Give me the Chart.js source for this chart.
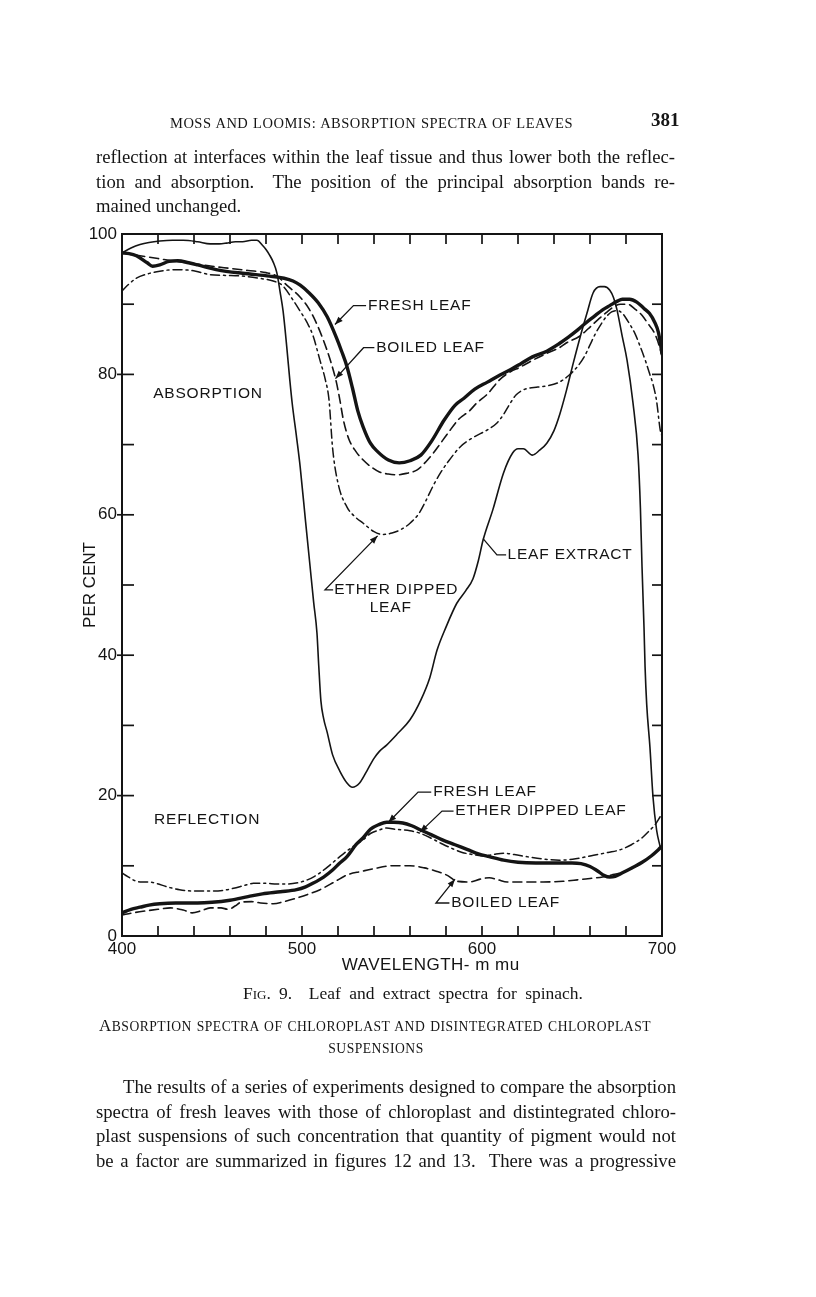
<!DOCTYPE html>
<html><head><meta charset="utf-8">
<script src="https://cdn.jsdelivr.net/npm/chart.js@4.4.1/dist/chart.umd.min.js"></script>
<style>
html,body{margin:0;padding:0;background:#fff;}
body{width:816px;height:1297px;position:relative;overflow:hidden;}
#c{position:absolute;left:0;top:0;}
.t{position:absolute;font-family:"Liberation Serif",serif;color:#151515;white-space:nowrap;line-height:20px;}
.j{text-align:justify;text-align-last:justify;}
</style></head><body>
<canvas id="c" width="816" height="1297"></canvas>

<div class="t j" style="left:170px;top:113px;width:403px;font-size:14.5px;letter-spacing:0.5px;">MOSS AND LOOMIS: ABSORPTION SPECTRA OF LEAVES</div>
<div class="t" style="left:651px;top:110px;font-size:19px;font-weight:bold;">381</div>

<div class="t j" style="left:96px;top:147px;width:579px;font-size:18.7px;">reflection at interfaces within the leaf tissue and thus lower both the reflec-</div>
<div class="t j" style="left:96px;top:172px;width:579px;font-size:18.7px;">tion and absorption.&nbsp; The position of the principal absorption bands re-</div>
<div class="t" style="left:96px;top:196px;font-size:18.7px;">mained unchanged.</div>

<div class="t j" style="left:243px;top:983px;width:340px;font-size:17.5px;">F<span style="font-size:13px">IG</span>. 9.&nbsp; Leaf and extract spectra for spinach.</div>

<div class="t j" style="left:99px;top:1016px;width:552px;font-size:13.6px;letter-spacing:0.5px;"><span style="font-size:17px">A</span>BSORPTION SPECTRA OF CHLOROPLAST AND DISINTEGRATED CHLOROPLAST</div>
<div class="t" style="left:276px;top:1039px;width:200px;text-align:center;font-size:13.6px;letter-spacing:0.5px;">SUSPENSIONS</div>

<div class="t j" style="left:123px;top:1077px;width:553px;font-size:18.7px;">The results of a series of experiments designed to compare the absorption</div>
<div class="t j" style="left:96px;top:1102px;width:580px;font-size:18.7px;">spectra of fresh leaves with those of chloroplast and distintegrated chloro-</div>
<div class="t j" style="left:96px;top:1126px;width:580px;font-size:18.7px;">plast suspensions of such concentration that quantity of pigment would not</div>
<div class="t j" style="left:96px;top:1151px;width:580px;font-size:18.7px;">be a factor are summarized in figures 12 and 13.&nbsp; There was a progressive</div>

<script>
// ---- Data (wavelength in m\u00b5, value in per cent) ----
const xTickLabels = [400, 500, 600, 700];
const yTickLabels = [0, 20, 40, 60, 80, 100];

// Absorption, fresh leaf (heavy solid)
const wlFreshAbs = [400,404,408,414,417,421,426,431,437,442,453,467,482,490,495,499,504,509,514,519,522,525,528,531,534,538,542,548,554,560,566,572,579,585,590,596,603,610,616,622,628,636,643,648,653,658,662,667,671,675,678,682,686,690,693,696,698,700];
const pctFreshAbs = [97.3,97.2,96.9,95.9,95.4,95.6,96.1,96.2,95.9,95.6,94.9,94.4,94.0,93.7,93.3,92.7,91.6,90.2,88.2,85.3,83.3,81.1,78.1,74.8,72.5,70.2,69.0,67.8,67.4,67.7,68.5,70.5,73.5,75.6,76.6,77.9,78.9,79.9,80.7,81.6,82.5,83.3,84.4,85.3,86.3,87.4,88.2,89.2,89.8,90.4,90.7,90.7,90.3,89.4,88.7,87.4,86.0,83.0];

// Absorption, boiled leaf (dashed)
const wlBoiledAbs = [400,410,420,430,440,450,460,470,480,486,492,499,504,508,512,516,519,521,523,526,530,534,538,543,548,553,558,564,569,573,577,581,587,593,597,603,610,616,621,628,636,643,647,654,659,664,669,673,677,681,685,689,692,696,699,700];
const pctBoiledAbs = [97.3,96.9,96.5,96.1,95.8,95.4,95.1,94.8,94.5,94.0,92.6,91.0,89.3,87.3,84.8,81.8,79.0,76.4,73.5,70.8,69.0,67.8,66.9,66.1,65.8,65.7,65.9,66.4,67.6,68.8,70.2,71.6,73.6,74.8,75.9,77.2,79.3,80.4,81.0,82.0,83.0,83.8,84.5,85.4,86.5,87.7,88.8,89.6,90.0,90.0,89.3,88.4,87.3,85.8,83.6,82.5];

// Absorption, ether dipped leaf (dash-dot)
const wlEtherAbs = [400,404,408,414,421,428,434,441,449,458,467,476,484,489,495,499,503,506,510,513,515,517,520,525,530,534,540,545,550,555,560,565,569,573,577,581,588,595,603,608,612,615,619,624,631,637,643,648,653,657,660,663,666,669,672,675,678,681,685,688,691,693,695,697,699,700];
const pctEtherAbs = [91.9,92.9,93.7,94.3,94.7,94.9,94.9,94.7,94.2,94.1,94.0,93.7,93.3,92.7,90.6,89.0,87.3,85.6,82.0,79.2,76.4,69.5,64.5,61.1,59.6,58.8,57.6,57.2,57.4,57.9,58.8,60.2,62.1,64.2,66.0,67.5,69.7,71.0,72.1,73.0,74.3,75.6,77.1,77.9,78.2,78.4,78.9,79.8,81.1,82.6,84.2,85.8,87.1,88.2,88.9,89.1,88.7,87.6,85.8,83.9,81.8,80.2,78.6,76.2,72.1,71.2];

// Absorption, leaf extract (thin solid)
const wlExtract = [400,405,410,415,421,428,434,442,449,454,458,463,467,472,475,478,480,482,484,486,487.8,489.5,491.5,493.3,494.5,497,499,502,504.5,506.5,508.3,509.3,510.5,512,514,517,521,525,528,532,536,540,543,547,553,560,566,571,575,580,586,591,595,598,600.6,606,612,617,620,623,628,632,636,640,643.3,647,650.7,654.5,658.3,661.7,665.6,668,671,673,675,678,680.6,683.9,686.7,688,688.9,690,690.6,691.5,693.3,695,697,699];
const pctExtract = [97.3,98.0,98.5,98.8,99.0,99.1,99.1,98.9,98.6,98.6,98.7,98.9,98.9,99.1,99.1,98.4,97.8,97.0,96.0,94.5,91.8,89.0,84.0,79.0,76.0,71.0,66.8,59.0,52.6,47.5,43.2,38.5,33.5,31.0,29.0,25.8,23.5,21.8,21.2,21.8,23.5,25.3,26.3,27.2,28.8,30.8,33.6,36.8,40.7,44.0,47.4,49.2,50.9,53.5,56.4,60.7,66.0,68.8,69.4,69.4,68.5,69.2,70.2,72.0,74.4,77.8,81.6,85.3,88.7,91.6,92.5,92.5,92.0,91.0,89.2,85.3,82.0,75.9,68.5,61.0,52.6,44.0,38.3,33.0,26.9,19.8,15.1,12.7];

// Reflection, fresh leaf (heavy solid)
const wlFreshRefl = [400,405,410,415,421,430,442,450,460,470,478,488,497,502,506,512,517,521,525,530,534,538,543,547,551,556,561,566,572,578,585,592,598,604,612,620,630,640,650,655,660,664,668,671,674,678,684,689,694,698,700];
const pctFreshRefl = [3.3,3.8,4.1,4.4,4.6,4.7,4.7,4.8,5.1,5.6,6.0,6.3,6.6,7.0,7.5,8.4,9.4,10.4,11.3,13.0,14.0,15.2,15.9,16.2,16.2,16.1,15.7,15.1,14.4,13.7,13.0,12.3,11.7,11.3,10.8,10.5,10.4,10.4,10.4,10.3,9.9,9.3,8.6,8.4,8.5,9.0,9.8,10.5,11.4,12.3,12.8];

// Reflection, boiled leaf (dashed)
const wlBoiledRefl = [400,406,414,420,427,434,439,444,449,455,459,463,466,472,477,484,490,497,504,510,518,525,533,540,550,560,568,575,581,586,593,599,604,609,614,625,634,645,653,660,667,672,677,684,689,694,699];
const pctBoiledRefl = [3.0,3.3,3.6,3.8,4.0,3.7,3.3,3.6,4.0,4.0,3.8,4.3,4.8,4.9,4.7,4.6,4.9,5.4,6.0,6.6,7.7,8.7,9.2,9.6,10.0,10.0,9.7,9.2,8.6,7.8,7.7,8.1,8.3,8.0,7.7,7.7,7.7,7.8,8.0,8.2,8.4,8.7,9.0,9.7,10.5,11.4,12.5];

// Reflection, ether dipped leaf (dash-dot)
const wlEtherRefl = [400,403,407,410,415,419,425,432,440,450,456,462,468,473,480,486,492,498,503,507,510,515,521,527,534,538,543,547,552,560,566,572,578,584,589,595,601,606,612,618,625,633,643,652,662,670,677,683,689,693,696,699];
const pctEtherRefl = [9.0,8.5,7.9,7.7,7.7,7.5,7.0,6.6,6.4,6.4,6.5,6.8,7.2,7.5,7.5,7.4,7.4,7.6,8.0,8.5,9.0,10.0,11.3,12.5,13.7,14.6,15.1,15.4,15.2,15.0,14.6,13.9,13.1,12.4,11.9,11.6,11.4,11.6,11.8,11.6,11.3,11.0,10.8,11.0,11.5,11.9,12.3,13.0,14.0,15.0,15.8,17.0];

// ---- Presentation ----
const INK = '#141414';
const LABEL_FONT = '15.5px "Liberation Sans", Arial, sans-serif';

const pts = (xs, ys) => xs.map((x, i) => ({x, y: ys[i]}));

function series(label, xs, ys, width, dash) {
  return {
    label, data: pts(xs, ys),
    borderColor: INK, borderWidth: width, borderDash: dash,
    pointRadius: 0, fill: false,
    cubicInterpolationMode: 'monotone',
    borderCapStyle: 'round', borderJoinStyle: 'round'
  };
}

const DASH = [9, 5];
const DASHDOT = [9, 4, 2, 4];

// Callout annotations (text lines + leader lines), in data units
const callouts = [
  {lines: [{t: 'FRESH LEAF', x: 536.6, y: 89.8}], leader: [[535.6, 89.8], [528.6, 89.8], [518.3, 87.1]], arrow: true},
  {lines: [{t: 'BOILED LEAF', x: 541.2, y: 83.8}], leader: [[540.2, 83.8], [534.2, 83.8], [518.6, 79.4]], arrow: true},
  {lines: [{t: 'LEAF EXTRACT', x: 614.2, y: 54.3}], leader: [[613.4, 54.3], [608.3, 54.3], [600.6, 56.6]], arrow: false},
  {lines: [{t: 'ETHER DIPPED', x: 517.9, y: 49.3}, {t: 'LEAF', x: 537.6, y: 46.7}], leader: [[517.3, 49.3], [512.8, 49.3], [542.0, 57.0]], arrow: true},
  {lines: [{t: 'FRESH LEAF', x: 572.9, y: 20.5}], leader: [[571.8, 20.5], [564.5, 20.5], [548.0, 16.2]], arrow: true},
  {lines: [{t: 'ETHER DIPPED LEAF', x: 585.2, y: 17.8}], leader: [[584.2, 17.8], [577.8, 17.8], [565.6, 14.8]], arrow: true},
  {lines: [{t: 'BOILED LEAF', x: 582.9, y: 4.7}], leader: [[581.9, 4.7], [574.4, 4.7], [585.0, 8.1]], arrow: true}
];
const regionLabels = [
  {t: 'ABSORPTION', x: 417.3, y: 77.2},
  {t: 'REFLECTION', x: 417.8, y: 16.5}
];
const xTitle = {t: 'WAVELENGTH- m mu', x: 571.5};

const paperPlugin = {
  id: 'paper',
  afterDatasetsDraw(chart) {
    const {ctx, chartArea: a, scales: {x, y}} = chart;
    const line = (x1, y1, x2, y2) => { ctx.beginPath(); ctx.moveTo(x1, y1); ctx.lineTo(x2, y2); ctx.stroke(); };
    ctx.save();
    ctx.strokeStyle = INK; ctx.fillStyle = INK; ctx.setLineDash([]);
    // frame
    ctx.lineWidth = 2;
    ctx.strokeRect(a.left, a.top, a.right - a.left, a.bottom - a.top);
    // inward tick marks
    ctx.lineWidth = 1.7;
    x.ticks.forEach(t => {
      if (t.value <= x.min || t.value >= x.max) return;
      const px = x.getPixelForValue(t.value);
      line(px, a.top, px, a.top + 10);
      line(px, a.bottom, px, a.bottom - 10);
    });
    y.ticks.forEach(t => {
      if (t.value <= y.min || t.value >= y.max) return;
      const py = y.getPixelForValue(t.value);
      const labeled = yTickLabels.includes(t.value);
      line(a.left - (labeled ? 5 : 0), py, a.left + 12, py);
      line(a.right - 10, py, a.right, py);
    });
    // callouts
    ctx.font = LABEL_FONT;
    ctx.letterSpacing = '0.8px';
    ctx.textBaseline = 'middle';
    ctx.textAlign = 'left';
    ctx.lineWidth = 1.3;
    callouts.forEach(c => {
      c.lines.forEach(l => ctx.fillText(l.t, x.getPixelForValue(l.x), y.getPixelForValue(l.y)));
      const p = c.leader.map(([vx, vy]) => [x.getPixelForValue(vx), y.getPixelForValue(vy)]);
      ctx.beginPath();
      ctx.moveTo(p[0][0], p[0][1]);
      for (let i = 1; i < p.length; i++) ctx.lineTo(p[i][0], p[i][1]);
      ctx.stroke();
      if (c.arrow) {
        const [x1, y1] = p[p.length - 2], [x2, y2] = p[p.length - 1];
        const ang = Math.atan2(y2 - y1, x2 - x1), L = 8, W = 3;
        ctx.beginPath();
        ctx.moveTo(x2, y2);
        ctx.lineTo(x2 - L * Math.cos(ang) + W * Math.sin(ang), y2 - L * Math.sin(ang) - W * Math.cos(ang));
        ctx.lineTo(x2 - L * Math.cos(ang) - W * Math.sin(ang), y2 - L * Math.sin(ang) + W * Math.cos(ang));
        ctx.closePath();
        ctx.fill();
      }
    });
    regionLabels.forEach(l => ctx.fillText(l.t, x.getPixelForValue(l.x), y.getPixelForValue(l.y)));
    // x-axis title
    ctx.font = '17px "Liberation Sans", Arial, sans-serif';
    ctx.letterSpacing = '0.5px';
    ctx.textAlign = 'center';
    ctx.fillText(xTitle.t, x.getPixelForValue(xTitle.x), a.bottom + 29);
    ctx.restore();
  }
};

Chart.defaults.font.family = '"Liberation Sans", Arial, sans-serif';
Chart.defaults.color = INK;

new Chart(document.getElementById('c'), {
  type: 'line',
  data: {
    datasets: [
      series('Absorption - fresh leaf', wlFreshAbs, pctFreshAbs, 3.4, []),
      series('Absorption - boiled leaf', wlBoiledAbs, pctBoiledAbs, 1.6, DASH),
      series('Absorption - ether dipped leaf', wlEtherAbs, pctEtherAbs, 1.5, DASHDOT),
      series('Absorption - leaf extract', wlExtract, pctExtract, 1.6, []),
      series('Reflection - fresh leaf', wlFreshRefl, pctFreshRefl, 3.4, []),
      series('Reflection - boiled leaf', wlBoiledRefl, pctBoiledRefl, 1.6, DASH),
      series('Reflection - ether dipped leaf', wlEtherRefl, pctEtherRefl, 1.5, DASHDOT)
    ]
  },
  options: {
    responsive: false,
    animation: false,
    devicePixelRatio: 1,
    layout: {padding: {left: 80, right: 154, top: 234, bottom: 321}},
    plugins: {legend: {display: false}, tooltip: {enabled: false}},
    scales: {
      x: {
        type: 'linear', min: 400, max: 700,
        grid: {display: false, drawTicks: false}, border: {display: false},
        ticks: {
          stepSize: 20, autoSkip: false, maxRotation: 0, padding: 3,
          font: {size: 17}, color: INK,
          callback: v => xTickLabels.includes(v) ? String(v) : ''
        },
        afterFit: s => { s.height = 40; }
      },
      y: {
        type: 'linear', min: 0, max: 100,
        grid: {display: false, drawTicks: false}, border: {display: false},
        ticks: {
          stepSize: 10, autoSkip: false, padding: 5,
          font: {size: 17}, color: INK,
          callback: v => yTickLabels.includes(v) ? String(v) : ''
        },
        title: {display: true, text: 'PER CENT', font: {size: 17}, padding: {top: 0, bottom: 0}, color: INK},
        afterFit: s => { s.width = 42; }
      }
    }
  },
  plugins: [paperPlugin]
});
</script>
</body></html>
